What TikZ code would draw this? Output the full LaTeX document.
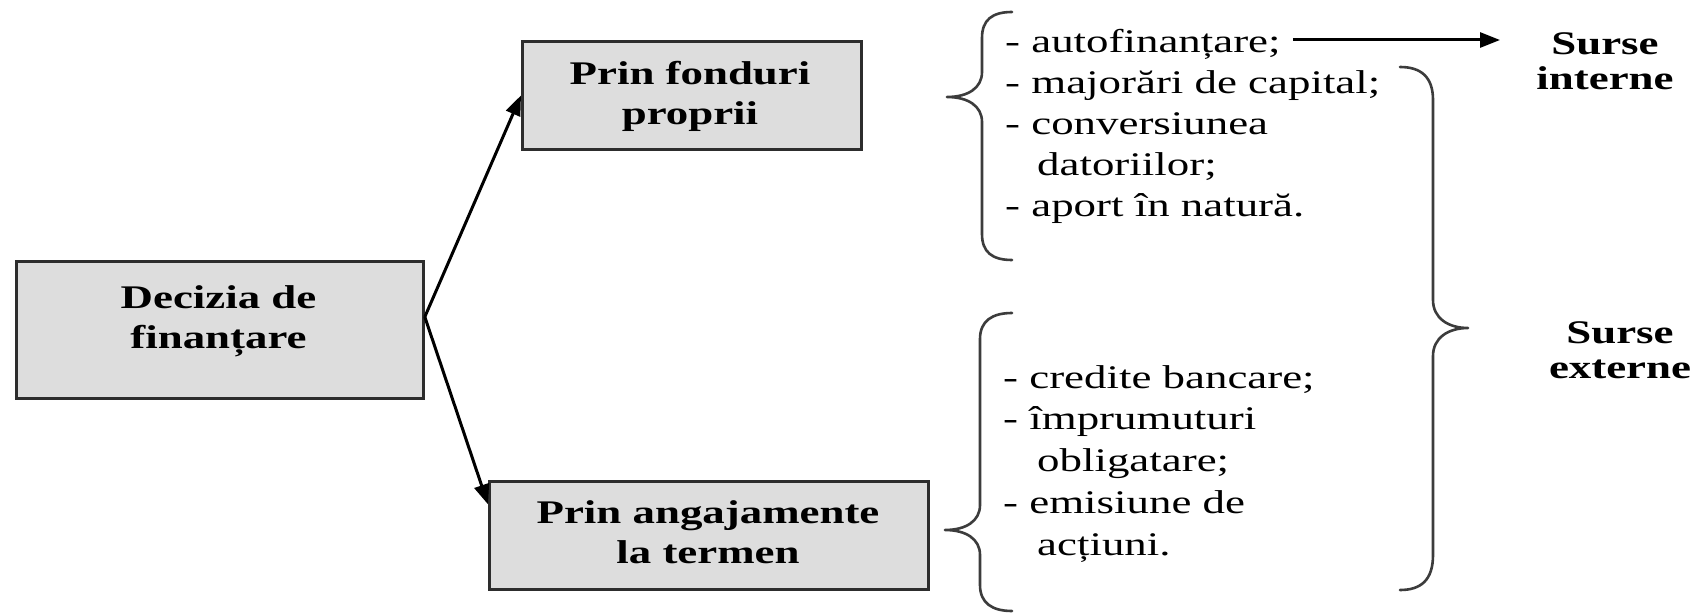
\documentclass[tikz,border=0pt]{standalone}
\usepackage{fontspec}
\setmainfont{Liberation Serif}[FakeStretch=1.36]
\usetikzlibrary{arrows.meta,calc}
\definecolor{boxfill}{RGB}{221,221,221}
\definecolor{boxline}{RGB}{45,45,45}
\definecolor{bracecol}{RGB}{60,60,60}
\begin{document}
\begin{tikzpicture}[x=1pt,y=-1pt,
  box/.style={draw=boxline, line width=2.8pt, fill=boxfill, inner sep=0pt, anchor=north west},
  bt/.style={font=\fontsize{33}{40}\selectfont\bfseries, inner sep=0pt, anchor=base},
  st/.style={font=\fontsize{33}{35}\selectfont\bfseries, inner sep=0pt, anchor=base},
  lt/.style={font=\fontsize{33}{41}\selectfont, inner sep=0pt, anchor=base west},
  arr/.style={-{Triangle[length=20pt,width=15pt]}, line width=3pt, black},
  brace/.style={draw=bracecol, line width=2.6pt, line cap=round, line join=round}]
\fill[white] (0,0) rectangle (1708,615);
\useasboundingbox (0,0) rectangle (1708,615);
% boxes
\node[box, minimum width=407pt, minimum height=137pt] (dec) at (15,260) {};
\node[box, minimum width=339pt, minimum height=108pt] (fond) at (521,40) {};
\node[box, minimum width=439pt, minimum height=108pt] (ang) at (488,480) {};
% box texts
\node[bt] (dect) at (218.5,308) {\begin{tabular}[t]{@{}c@{}}Decizia de\\finanțare\end{tabular}};
\node[bt] (fondt) at (690,85) {\begin{tabular}[t]{@{}c@{}}Prin fonduri\\proprii\end{tabular}};
\node[bt] (angt) at (708,523) {\begin{tabular}[t]{@{}c@{}}Prin angajamente\\la termen\end{tabular}};
% arrows from decision
\draw[arr] ([yshift=13pt]dec.east) -- (fond.west);
\draw[arr] ([yshift=13pt]dec.east) -- ([yshift=31pt]ang.west);
% list 1
\node[lt] (af) at (1005,53) {- autofinanțare;};
\node[lt] (l1) at (1005,94) {\begin{tabular}[t]{@{}l@{}}- majorări de capital;\\- conversiunea\\\hspace*{32pt}datoriilor;\\- aport în natură.\end{tabular}};
% list 2
\node[lt, font=\fontsize{33}{41.75}\selectfont] (l2) at (1003,388) {\begin{tabular}[t]{@{}l@{}}- credite bancare;\\- împrumuturi\\\hspace*{34pt}obligatare;\\- emisiune de\\\hspace*{34pt}acțiuni.\end{tabular}};
% right labels
\node[st] (si) at (1605,55) {\begin{tabular}[t]{@{}c@{}}Surse\\interne\end{tabular}};
\node[st] (se) at (1620,343) {\begin{tabular}[t]{@{}c@{}}Surse\\externe\end{tabular}};
% arrow to internal sources
\coordinate (ae) at (1500,40);
\draw[arr] ([xshift=12pt,yshift=13pt]af.base east) -- (ae);
% braces
\draw[brace] (1012,12) .. controls (992,12) and (982,20) .. (982,38) -- (982,72) .. controls (982,88) and (968,97) .. (947,97) .. controls (968,97) and (982,106) .. (982,122) -- (982,234) .. controls (982,252) and (992,260) .. (1012,260);
\draw[brace] (1012,313) .. controls (992,313) and (980,321) .. (980,339) -- (980,505) .. controls (980,521) and (966,530) .. (945,530) .. controls (966,530) and (980,539) .. (980,555) -- (980,585) .. controls (980,603) and (992,611) .. (1012,611);
\draw[brace] (1400,67) .. controls (1421,67) and (1433,77) .. (1433,100) -- (1433,300) .. controls (1433,318) and (1448,328) .. (1468,328) .. controls (1448,328) and (1433,338) .. (1433,356) -- (1433,555) .. controls (1433,580) and (1421,590) .. (1400,590);
\end{tikzpicture}
\end{document}
